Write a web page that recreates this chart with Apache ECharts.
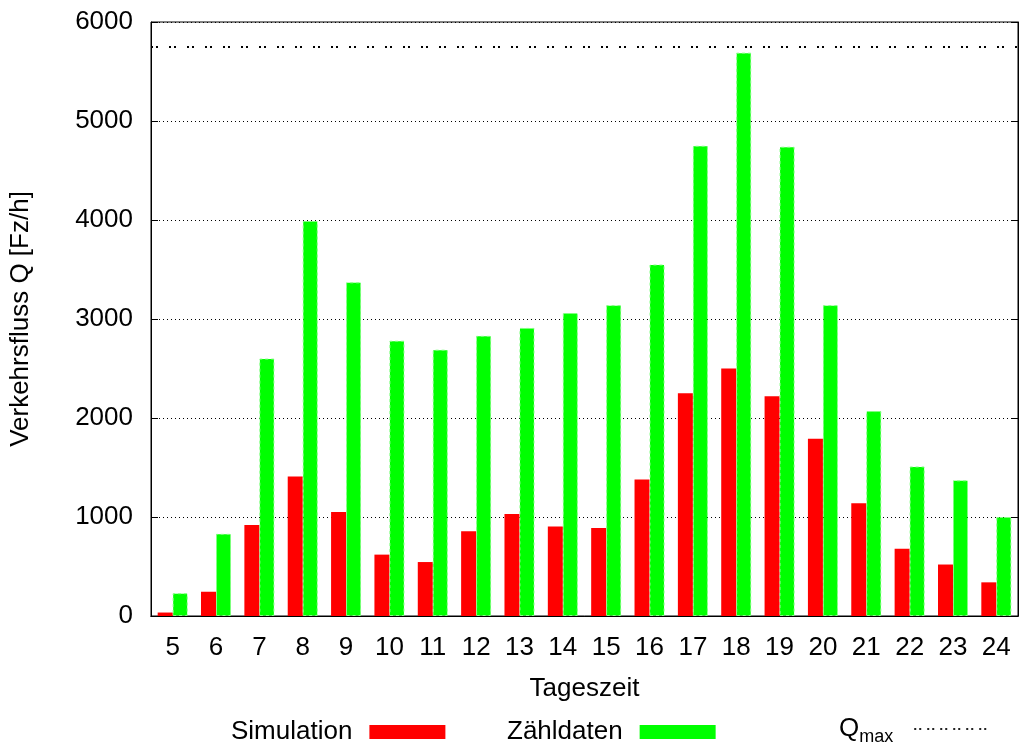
<!DOCTYPE html>
<html>
<head>
<meta charset="utf-8">
<script src="https://cdn.jsdelivr.net/npm/echarts@6/dist/echarts.min.js"></script>
<style>
  html, body { margin: 0; padding: 0; background: #fff; }
  #chart { width: 1033px; height: 747px; }
</style>
</head>
<body>
<div id="chart"></div>
<script>
// Tageszeit (Stunde)
const hours = ['5', '6', '7', '8', '9', '10', '11', '12', '13', '14', '15', '16', '17', '18', '19', '20', '21', '22', '23', '24']
// Simulation
const simulation = [35, 245, 920, 1410, 1050, 620, 545, 855, 1030, 905, 890, 1380, 2250, 2500, 2220, 1790, 1140, 680, 520, 340]
// Zähldaten
const zaehldaten = [230, 830, 2600, 3990, 3370, 2780, 2690, 2830, 2910, 3060, 3140, 3550, 4750, 5690, 4740, 3140, 2070, 1510, 1370, 1000]
// Q_max
const qMax = 5745
const yTicks = { min: 0, max: 6000, interval: 1000 }

const font = 'Liberation Sans, Arial, sans-serif'
const fs = 26

// gepunktetes Legendensymbol fuer Q_max (Paare von Punkten)
let dotPath = 'path://'
for (let x = 0; x < 76; x += 13) {
  dotPath += 'M' + x + ',0h2v2h-2z M' + (x + 5) + ',0h2v2h-2z '
}

let chart = echarts.init(document.getElementById('chart'))
let option = {
  animation: false,
  backgroundColor: '#fff',
  textStyle: { fontFamily: font, color: '#000' },
  grid: {
    left: 151,
    right: 15,
    top: 22,
    bottom: 131,
    show: true,
    borderColor: '#000',
    borderWidth: 1,
  },
  legend: [
    {
      data: [{ name: 'Simulation', icon: 'rect' }],
      left: 226,
      top: 714,
      align: 'right',
      itemWidth: 76,
      itemHeight: 14,
      textStyle: { fontSize: fs, fontFamily: font, color: '#000', padding: [0, 12, 0, 0] },
    },
    {
      data: [{ name: 'Zähldaten', icon: 'rect' }],
      left: 502,
      top: 714,
      align: 'right',
      itemWidth: 76,
      itemHeight: 14,
      itemStyle: { borderWidth: 0 },
      textStyle: { fontSize: fs, fontFamily: font, color: '#000', padding: [0, 12, 0, 0] },
    },
    {
      data: [{ name: 'Qmax', icon: dotPath }],
      left: 834,
      top: 711,
      align: 'right',
      itemWidth: 76,
      itemHeight: 2,
      itemStyle: { color: '#222' },
      formatter: () => '{q|Q}{s|max}',
      textStyle: {
        padding: [0, 14, 0, 0],
        rich: {
          q: { fontSize: fs, fontFamily: font, color: '#000' },
          s: { fontSize: 18, fontFamily: font, color: '#000', padding: [17, 0, 0, 0] },
        },
      },
    },
  ],
  xAxis: [
    {
      type: 'category',
      data: hours,
      position: 'bottom',
      name: 'Tageszeit',
      nameLocation: 'middle',
      nameGap: 60,
      nameTextStyle: { fontSize: fs, fontFamily: font, color: '#000' },
      axisLine: { lineStyle: { color: '#000', width: 1 } },
      axisTick: { inside: true, alignWithLabel: true, length: 7, lineStyle: { color: '#000' } },
      axisLabel: { fontSize: fs, fontFamily: font, color: '#000', margin: 19, interval: 0 },
    },
    {
      type: 'category',
      data: hours,
      position: 'top',
      axisLine: { lineStyle: { color: '#000', width: 1 } },
      axisTick: { inside: true, alignWithLabel: true, length: 7, lineStyle: { color: '#000' } },
      axisLabel: { show: false },
    },
  ],
  yAxis: [
    {
      type: 'value',
      min: yTicks.min,
      max: yTicks.max,
      interval: yTicks.interval,
      name: 'Verkehrsfluss Q [Fz/h]',
      nameLocation: 'middle',
      nameRotate: 90,
      nameGap: 117,
      nameTextStyle: { fontSize: fs, fontFamily: font, color: '#000' },
      axisLine: { show: true, lineStyle: { color: '#000', width: 1 } },
      axisTick: { show: true, inside: true, length: 7, lineStyle: { color: '#000' } },
      axisLabel: { fontSize: fs, fontFamily: font, color: '#000', margin: 18, formatter: (v) => String(v) },
      splitLine: {
        show: true,
        lineStyle: { color: '#000', type: [1, 3], width: 1 },
      },
    },
    {
      type: 'value',
      position: 'right',
      min: yTicks.min,
      max: yTicks.max,
      interval: yTicks.interval,
      axisLine: { show: true, lineStyle: { color: '#000', width: 1 } },
      axisTick: { show: true, inside: true, length: 7, lineStyle: { color: '#000' } },
      axisLabel: { show: false },
      splitLine: { show: false },
    },
  ],
  series: [
    {
      name: 'Simulation',
      type: 'bar',
      data: simulation,
      barWidth: 15,
      barGap: '0%',
      itemStyle: { color: '#ff0000' },
    },
    {
      name: 'Zähldaten',
      type: 'bar',
      data: zaehldaten,
      barWidth: 15,
      itemStyle: { color: '#00ff00', borderColor: '#80ff80', borderWidth: 1, borderType: [3, 3] },
    },
    {
      name: 'Qmax',
      type: 'line',
      data: [],
      symbol: 'none',
      itemStyle: { color: '#000' },
      lineStyle: { color: '#000', type: [2, 3, 2, 11], width: 2 },
      markLine: {
        silent: true,
        symbol: 'none',
        label: { show: false },
        lineStyle: { color: '#000', type: [2, 3, 2, 11], width: 2 },
        data: [{ yAxis: qMax }],
      },
    },
  ],
}
chart.setOption(option)
window.addEventListener('resize', () => {
  chart.resize()
})
</script>
</body>
</html>
